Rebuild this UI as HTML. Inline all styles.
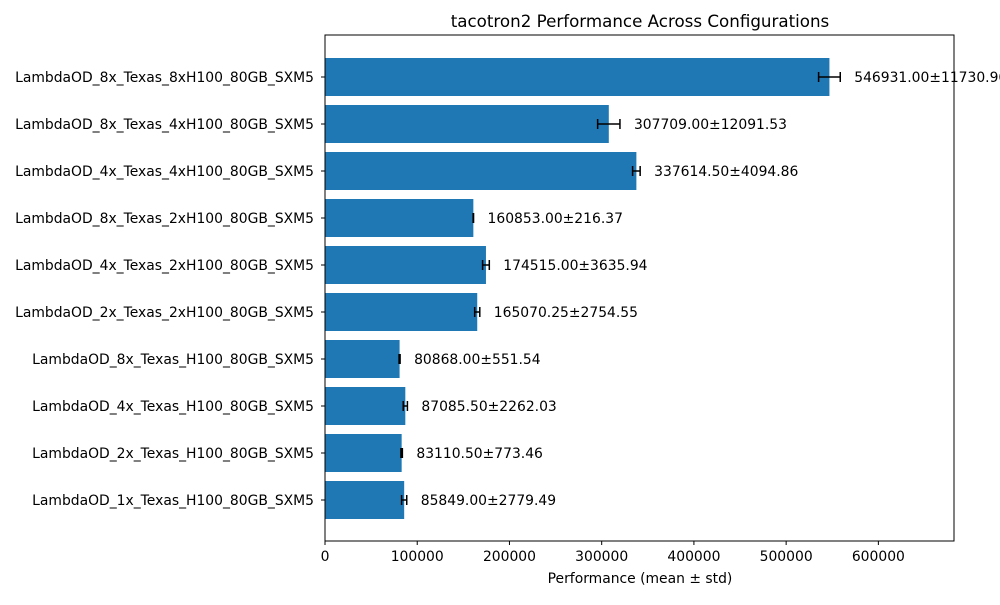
<!DOCTYPE html>
<html><head><meta charset="utf-8"><style>
body{margin:0;background:#fff;overflow:hidden;}
svg{font-family:"DejaVu Sans","Liberation Sans",sans-serif;}
</style></head><body>
<svg id="chart" width="1000" height="600">
<rect x="0" y="0" width="1000" height="600" fill="#fff"/>
<text x="640" y="27" text-anchor="middle" font-size="16.7">tacotron2 Performance Across Configurations</text>
<g id="plot"></g>
<rect x="325" y="35" width="629" height="506" fill="none" stroke="#000" stroke-width="1"/>
<text x="640" y="583" text-anchor="middle" font-size="13.9">Performance (mean ± std)</text>
</svg>
<script>
const categories=["LambdaOD_1x_Texas_H100_80GB_SXM5","LambdaOD_2x_Texas_H100_80GB_SXM5","LambdaOD_4x_Texas_H100_80GB_SXM5","LambdaOD_8x_Texas_H100_80GB_SXM5","LambdaOD_2x_Texas_2xH100_80GB_SXM5","LambdaOD_4x_Texas_2xH100_80GB_SXM5","LambdaOD_8x_Texas_2xH100_80GB_SXM5","LambdaOD_4x_Texas_4xH100_80GB_SXM5","LambdaOD_8x_Texas_4xH100_80GB_SXM5","LambdaOD_8x_Texas_8xH100_80GB_SXM5"];
const means=[85849.00,83110.50,87085.50,80868.00,165070.25,174515.00,160853.00,337614.50,307709.00,546931.00];
const stds=[2779.49,773.46,2262.03,551.54,2754.55,3635.94,216.37,4094.86,12091.53,11730.96];
const xTicks=[0,100000,200000,300000,400000,500000,600000];
const xMax=682000;
const L=325,R=954,T=35,B=541;
const FS=13.9;
const x=v=>L+(v/xMax)*(R-L);
const y=i=>500-i*47;
const ns="http://www.w3.org/2000/svg";
const g=document.getElementById('plot');
function mk(t,a){const e=document.createElementNS(ns,t);for(const k in a)e.setAttribute(k,a[k]);g.appendChild(e);return e;}
categories.forEach((c,i)=>{
 const cy=y(i);
 const b=mk('rect',{x:L,y:cy-19,width:x(means[i])-L,height:38,fill:'#1f77b4'});
 
 
 const lo=x(means[i]-stds[i]),hi=x(means[i]+stds[i]);
 const e=mk('path',{d:`M${lo},${cy}H${hi}M${lo},${cy-5}V${cy+5}M${hi},${cy-5}V${cy+5}`,stroke:'#000','stroke-width':1.5,fill:'none'});
 
 
 const v=mk('text',{x:hi+14,y:cy+5,'font-size':FS});
 v.textContent=means[i].toFixed(2)+'±'+stds[i].toFixed(2);
 
 
 mk('line',{x1:L-4,x2:L,y1:cy,y2:cy,stroke:'#000'});
 const t=mk('text',{x:L-11,y:cy+5,'font-size':FS,'text-anchor':'end'});
 t.textContent=c;
 
 
});
xTicks.forEach((v,i)=>{
 mk('line',{x1:x(v),x2:x(v),y1:B,y2:B+4,stroke:'#000'});
 const t=mk('text',{x:x(v),y:B+20,'font-size':FS,'text-anchor':'middle'});
 t.textContent=String(v);
 
 
});
</script>
</body></html>
